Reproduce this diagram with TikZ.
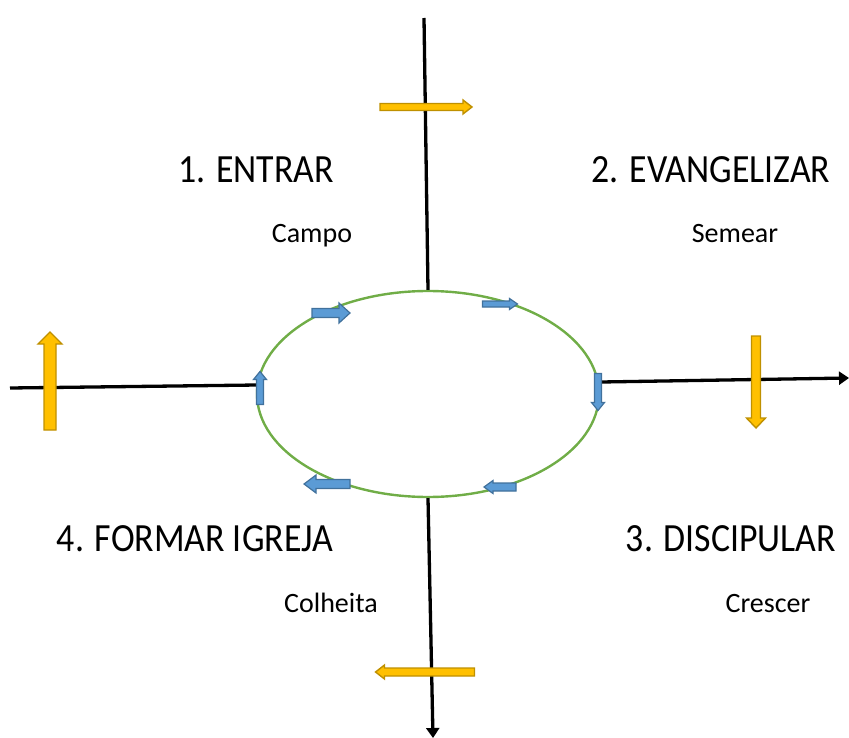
\documentclass[tikz,border=0pt]{standalone}
\usepackage{fontspec}
\setmainfont{Carlito}
\newfontfamily\headfont{Carlito}[FakeStretch=0.895]
\usetikzlibrary{shapes.geometric,arrows.meta}

\definecolor{leafgreen}{HTML}{70AD47}
\definecolor{gold}{HTML}{FFC000}
\definecolor{golddark}{HTML}{BF9000}
\definecolor{steel}{HTML}{5B9BD5}
\definecolor{steeldark}{HTML}{41719C}

\tikzset{
  pics/flowarrow/.style n args={4}{code={
    \path[pic actions] (-#1/2,-#2/2) -- (#1/2-#4,-#2/2) -- (#1/2-#4,-#3/2)
      -- (#1/2,0) -- (#1/2-#4,#3/2) -- (#1/2-#4,#2/2) -- (-#1/2,#2/2) -- cycle;
  }},
  goldarrow/.style={draw=golddark,fill=gold,line width=1.4pt},
  bluearrow/.style={draw=steeldark,fill=steel,line width=1.2pt},
  axisline/.style={black,line width=3.3pt},
  stage/.style={anchor=base,font=\headfont\fontsize{40}{44}\selectfont},
  season/.style={anchor=base,font=\fontsize{28}{31}\selectfont},
}

\begin{document}
\begin{tikzpicture}[x=1pt,y=-1pt]
\useasboundingbox (0,0) rectangle (849,738);

% the cycle
\node[ellipse,draw=leafgreen,line width=2.4pt,minimum width=342pt,minimum height=206pt] (cycle) at (428,394) {};

% axes
\coordinate (topend) at (424,18);
\coordinate (leftend) at (10,388);
\coordinate (rightend) at (849,378);
\coordinate (bottomend) at (433,738);
\draw[axisline] (cycle.north) -- (topend);
\draw[axisline] (cycle.177) -- (leftend);
\draw[axisline,-{Triangle[length=10pt,width=13pt]}] (cycle.4) -- (rightend);
\draw[axisline,-{Triangle[length=10pt,width=13pt]}] (cycle.south) -- (bottomend);

% big arrows on the axes
\pic[goldarrow] at (426,107) {flowarrow={92}{7}{14}{9}};
\pic[goldarrow,rotate=90] at (50,381) {flowarrow={98}{12}{24}{12}};
\pic[goldarrow,rotate=-90] at (756,382) {flowarrow={92}{9}{19}{10}};
\pic[goldarrow,rotate=180] at (425,672) {flowarrow={99}{8}{14}{9}};

% small arrows round the cycle
\pic[bluearrow] at (331,313) {flowarrow={38}{9}{20}{11}};
\pic[bluearrow] at (500,304) {flowarrow={35}{6}{11}{8}};
\pic[bluearrow,rotate=-90] at (598,392) {flowarrow={37}{7}{13}{8}};
\pic[bluearrow,rotate=180] at (500,487) {flowarrow={32}{8}{13}{9}};
\pic[bluearrow,rotate=180] at (327,484) {flowarrow={46}{9}{18}{12}};
\pic[bluearrow,rotate=90] at (260,388) {flowarrow={33}{7}{13}{8}};

% labels
\node[stage] (entrar) at (256,183) {1. ENTRAR};
\node[season] (campo) at (312,243) {Campo};
\node[stage] (evangelizar) at (711,183) {2. EVANGELIZAR};
\node[season] (semear) at (735,243) {Semear};
\node[stage] (discipular) at (731,551) {3. DISCIPULAR};
\node[season] (crescer) at (768,612) {Crescer};
\node[stage] (formar) at (195,551) {4. FORMAR IGREJA};
\node[season] (colheita) at (331,612) {Colheita};
\end{tikzpicture}
\end{document}
